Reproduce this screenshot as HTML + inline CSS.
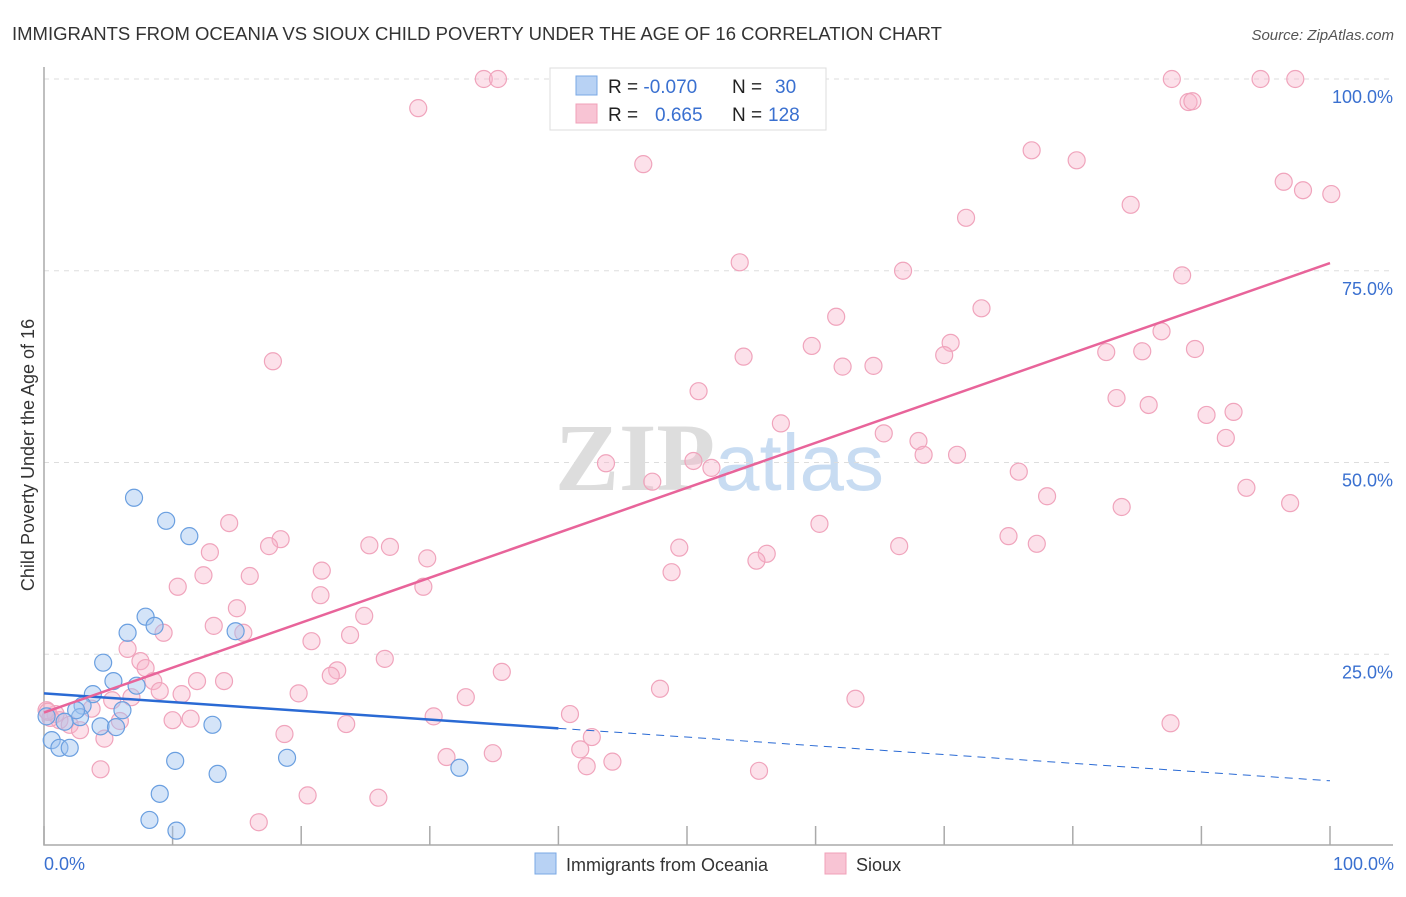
<!DOCTYPE html>
<html><head><meta charset="utf-8"><style>
body{margin:0;background:#fff;font-family:"Liberation Sans",sans-serif}
</style></head><body>
<svg id="c" width="1406" height="892" xmlns="http://www.w3.org/2000/svg" style="font-family:'Liberation Sans',sans-serif">
<text x="12" y="40" font-size="18" fill="#333" textLength="930" lengthAdjust="spacingAndGlyphs">IMMIGRANTS FROM OCEANIA VS SIOUX CHILD POVERTY UNDER THE AGE OF 16 CORRELATION CHART</text>
<text x="1394" y="40" font-size="15" fill="#555" text-anchor="end" font-style="italic">Source: ZipAtlas.com</text>
<text x="715" y="490" font-size="96" fill="#ddd" text-anchor="end" font-family="Liberation Serif" font-weight="bold">ZIP</text>
<text x="715" y="490" font-size="80" fill="#c8dcf2">atlas</text>
<g id="grid"></g><g id="axes"></g><g id="pts"></g><g id="lines"></g>
<text transform="translate(34,455) rotate(-90)" font-size="18" fill="#333" text-anchor="middle">Child Poverty Under the Age of 16</text>
<text x="44" y="870" font-size="18" fill="#3a70d0">0.0%</text>
<text x="1394" y="870" font-size="18" fill="#3a70d0" text-anchor="end">100.0%</text>
<g>
<rect x="550" y="68" width="276" height="62" fill="#fff" stroke="#ddd"/>
<rect x="576" y="76" width="21" height="19" fill="#b8d2f4" stroke="#7aa8e4"/>
<rect x="576" y="104" width="21" height="19" fill="#f8c4d4" stroke="#f0a0b8"/>
<text x="608" y="93" font-size="19" fill="#222">R = <tspan fill="#3a70d0">-0.070</tspan><tspan x="732">N = </tspan><tspan x="775" fill="#3a70d0">30</tspan></text>
<text x="608" y="121" font-size="19" fill="#222">R = <tspan x="655" fill="#3a70d0">0.665</tspan><tspan x="732">N = </tspan><tspan x="768" fill="#3a70d0">128</tspan></text>
</g>
<g>
<rect x="535" y="853" width="21" height="21" fill="#b8d2f4" stroke="#7aa8e4"/>
<text x="566" y="871" font-size="18" fill="#333">Immigrants from Oceania</text>
<rect x="825" y="853" width="21" height="21" fill="#f8c4d4" stroke="#f0a0b8"/>
<text x="856" y="871" font-size="18" fill="#333">Sioux</text>
</g>
</svg>
<script>
const yTicks=[25,50,75,100];
const yTickLabels=["25.0%","50.0%","75.0%","100.0%"];
const xTicks=[0,10,20,30,40,50,60,70,80,90,100];
const bluePx=[[134,498],[166,521],[189,536],[146,617],[155,626],[127,633],[235,631],[103,663],[113,681],[137,686],[93,694],[83,706],[80,717],[76,710],[65,722],[100,726],[116,727],[212,725],[122,710],[52,740],[60,748],[70,748],[175,761],[287,758],[217,774],[160,794],[150,820],[177,831],[460,768],[46,716]];
const pinkPx=[[484,79],[498,79],[1172,79],[1260,79],[1295,79],[418,108],[1188,102],[1192,101],[643,164],[1032,150],[1077,160],[1284,182],[1303,190],[1331,194],[1131,205],[966,218],[740,262],[903,271],[1182,275],[981,308],[836,317],[1161,331],[812,346],[951,343],[944,355],[1106,352],[1142,351],[1195,349],[743,357],[873,366],[843,367],[273,361],[699,391],[1117,398],[1149,405],[781,423],[1207,415],[1233,412],[884,433],[919,441],[1226,438],[923,455],[957,455],[606,463],[693,461],[712,468],[652,482],[1019,472],[1047,496],[1247,488],[1290,503],[1122,507],[819,524],[229,523],[280,539],[269,546],[369,545],[390,547],[210,552],[679,548],[1008,536],[1037,544],[899,546],[767,554],[756,561],[427,558],[250,576],[204,575],[322,571],[178,587],[672,572],[423,587],[320,595],[237,608],[364,616],[214,626],[163,633],[243,633],[311,641],[350,635],[128,649],[140,661],[146,668],[385,659],[153,681],[337,670],[331,676],[502,672],[224,681],[197,681],[160,691],[181,694],[298,693],[466,697],[660,689],[856,699],[112,700],[131,697],[91,709],[120,721],[172,720],[190,719],[346,724],[434,716],[570,714],[1170,723],[55,714],[60,720],[70,725],[80,730],[104,739],[285,734],[592,737],[101,769],[447,757],[493,753],[580,749],[587,766],[613,762],[759,771],[307,795],[378,798],[259,822],[46,710],[50,718],[48,712]];
const blueX=bluePx.map(p=>+((p[0]-44)/12.86).toFixed(1));
const blueY=bluePx.map(p=>+((846-p[1])/7.67).toFixed(1));
const pinkX=pinkPx.map(p=>+((p[0]-44)/12.86).toFixed(1));
const pinkY=pinkPx.map(p=>+((846-p[1])/7.67).toFixed(1));
const blueTrend=[19.9,8.5];
const blueSolidEnd=40;
const pinkTrend=[17.4,76.0];
const X=v=>44+v*12.86, Y=v=>846-v*7.67;
const NS="http://www.w3.org/2000/svg";
function mk(tag,parent,attrs){const e=document.createElementNS(NS,tag);for(const k in attrs)e.setAttribute(k,attrs[k]);document.getElementById(parent).appendChild(e);return e;}
yTicks.forEach((t,i)=>{
 const g=mk('line','grid',{x1:44,x2:1393,y1:Y(t),y2:Y(t),stroke:'#ddd','stroke-dasharray':'5,5'});
 
 
 const l=mk('text','grid',{x:1393,y:Y(t)+24,'font-size':18,fill:'#3a70d0','text-anchor':'end'});
 l.textContent=yTickLabels[i];
 
 
});
const ax=mk('path','axes',{d:`M44 67V845H1393`,fill:'none',stroke:'#aaa','stroke-width':1.5});


xTicks.forEach(t=>{
 const k=mk('line','axes',{x1:X(t),x2:X(t),y1:826,y2:845,stroke:'#aaa','stroke-width':1.5});
 
 
});
pinkX.forEach((v,i)=>{
 const c=mk('circle','pts',{cx:X(v),cy:Y(pinkY[i]),r:8.5,fill:'rgba(248,180,202,0.4)',stroke:'#f0a4bc','stroke-width':1.2});
 
 
});
blueX.forEach((v,i)=>{
 const c=mk('circle','pts',{cx:X(v),cy:Y(blueY[i]),r:8.5,fill:'rgba(160,196,240,0.45)',stroke:'#6a9fe0','stroke-width':1.2});
 
 
});
const bAt=v=>blueTrend[0]+(blueTrend[1]-blueTrend[0])*v/100;
const b1=mk('line','lines',{x1:X(0),y1:Y(bAt(0)),x2:X(blueSolidEnd),y2:Y(bAt(blueSolidEnd)),stroke:'#2a6ad4','stroke-width':2.5});


const b2=mk('line','lines',{x1:X(blueSolidEnd),y1:Y(bAt(blueSolidEnd)),x2:X(100),y2:Y(bAt(100)),stroke:'#2a6ad4','stroke-width':1,'stroke-dasharray':'8,6'});


const p1=mk('line','lines',{x1:X(0),y1:Y(pinkTrend[0]),x2:X(100),y2:Y(pinkTrend[1]),stroke:'#e8649a','stroke-width':2.5});


</script>
</body></html>
